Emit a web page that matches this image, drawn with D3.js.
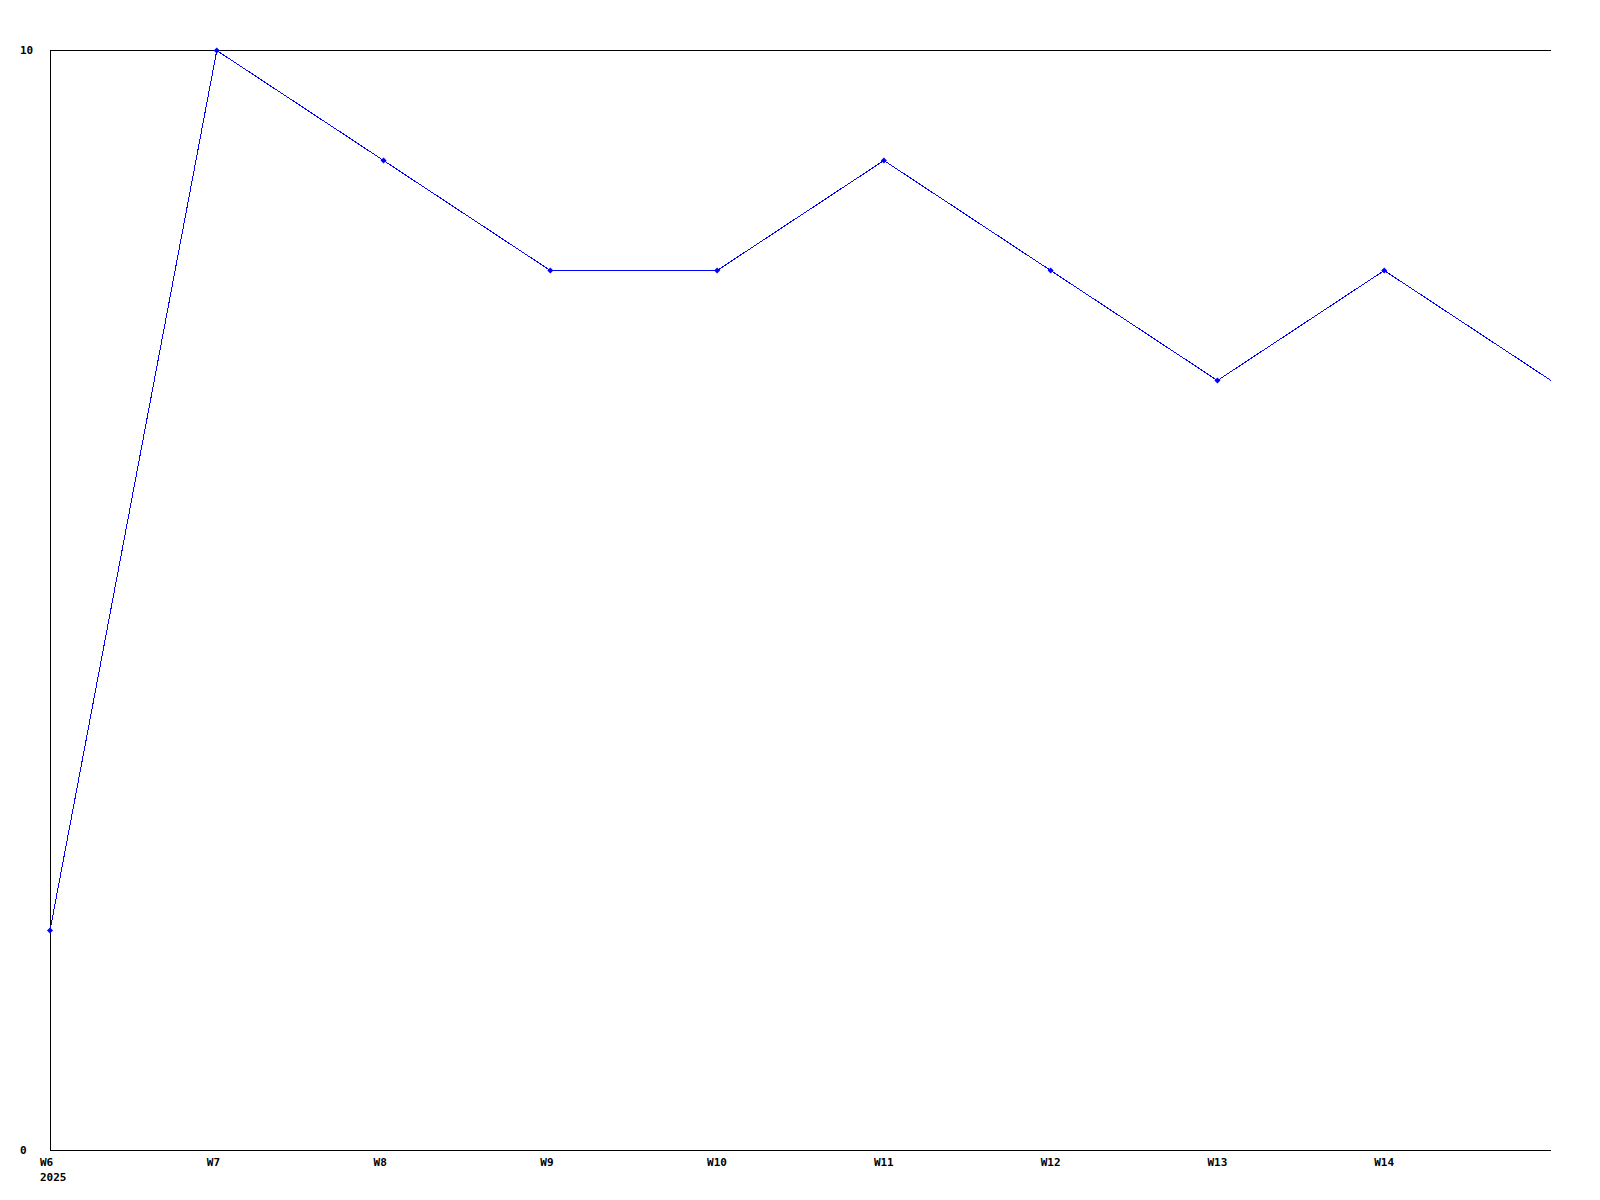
<!DOCTYPE html>
<html>
<head>
<meta charset="utf-8">
<script src="https://cdn.jsdelivr.net/npm/d3@7"></script>
<style>
html,body{margin:0;padding:0;background:#fff;}
svg text{font-family:"DejaVu Sans Mono","Liberation Mono",monospace;font-weight:bold;font-size:11px;fill:#000;}
</style>
</head>
<body>
<svg id="chart" width="1600" height="1200"></svg>
<script>
const weeks = ["W6","W7","W8","W9","W10","W11","W12","W13","W14","W15"];
const tickLabels = ["W6","W7","W8","W9","W10","W11","W12","W13","W14"];
const values = [2,10,9,8,8,9,8,7,8,7];
const yTicks = [0,10];
const yearLabel = "2025";

(function(){
const svg = d3.select("#chart");
const mLeft = 50, mRight = 1551, mTop = 50, mBottom = 1150;

const x = d3.scalePoint().domain(weeks).range([mLeft, mRight]);
const y = d3.scaleLinear().domain([0,10]).range([mBottom, mTop]);

// axes frame
svg.append("line").attr("x1", mLeft + 0.5).attr("x2", mLeft + 0.5).attr("y1", mTop).attr("y2", mBottom + 1)
  .attr("stroke", "#000").attr("stroke-width", 1);
svg.append("line").attr("x1", mLeft).attr("x2", mRight).attr("y1", y(0) + 0.5).attr("y2", y(0) + 0.5)
  .attr("stroke", "#000").attr("stroke-width", 1);
svg.append("line").attr("x1", mLeft).attr("x2", mRight).attr("y1", y(10) + 0.5).attr("y2", y(10) + 0.5)
  .attr("stroke", "#000").attr("stroke-width", 1);

// y labels
svg.selectAll(".ylab").data(yTicks).enter().append("text")
  .attr("x", 20).attr("y", d => y(d) + 3.5).text(d => d);

// x labels
svg.selectAll(".xlab").data(tickLabels).enter().append("text")
  .attr("x", d => x(d) - 10).attr("y", 1166).text(d => d);
svg.append("text").attr("x", x("W6") - 10).attr("y", 1181).text(yearLabel);

// line
const line = d3.line().x((d, i) => x(weeks[i])).y(d => y(d) + 0.5);
svg.append("path").datum(values).attr("d", line)
  .attr("fill", "none").attr("stroke", "#0000ff").attr("stroke-width", 1)
  .attr("shape-rendering", "crispEdges");

// markers (small diamonds)
svg.selectAll(".mk").data(values.slice(0, values.length - 1)).enter().append("path")
  .attr("d", (d, i) => {
    const cx = x(weeks[i]), cy = y(d) + 0.5, r = 3;
    return `M${cx},${cy - r}L${cx + r},${cy}L${cx},${cy + r}L${cx - r},${cy}Z`;
  })
  .attr("fill", "#0000ff");
})();
</script>
</body>
</html>
